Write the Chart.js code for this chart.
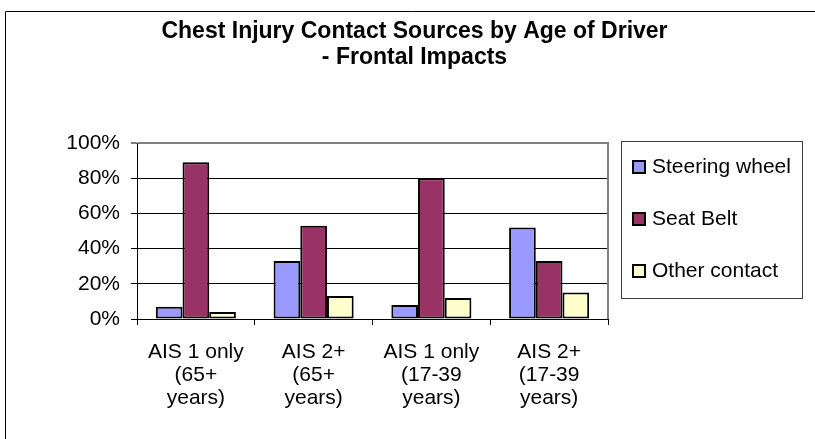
<!DOCTYPE html>
<html>
<head>
<meta charset="utf-8">
<title>Chest Injury Contact Sources by Age of Driver</title>
<script src="https://cdn.jsdelivr.net/npm/chart.js@4.4.0/dist/chart.umd.min.js"></script>
<style>
    html, body { margin: 0; padding: 0; background: #fff; }
    #chart { display: block; }
</style>
</head>
<body>
<canvas id="chart" width="815" height="439"></canvas>
<script>
// values (percent)
const categories = [
    ['AIS 1 only', '(65+', 'years)'],
    ['AIS 2+', '(65+', 'years)'],
    ['AIS 1 only', '(17-39', 'years)'],
    ['AIS 2+', '(17-39', 'years)']
];
const seriesNames = ['Steering wheel', 'Seat Belt', 'Other contact'];
const steeringWheel = [7, 33, 8, 52];
const seatBelt = [89, 53, 80, 33];
const otherContact = [4, 13, 12, 15];
const yTicks = [0, 20, 40, 60, 80, 100];

const FONT = "'Liberation Sans', Arial, sans-serif";
Chart.defaults.font.family = FONT;
Chart.defaults.color = '#000';

// legend drawn in its own layout box on the right, Excel style
function drawLegend(chart, box) {
    const ctx = chart.ctx;
    ctx.save();
    ctx.strokeStyle = '#404040';
    ctx.lineWidth = 1;
    ctx.strokeRect(box.left + 13.5, 141.5, 181, 157);
    ctx.font = '21px ' + FONT;
    ctx.textBaseline = 'middle';
    chart.data.datasets.forEach((ds, i) => {
        const cy = 167 + i * 52;
        ctx.fillStyle = ds.backgroundColor;
        ctx.fillRect(box.left + 25, cy - 6, 12, 12);
        ctx.strokeStyle = '#000';
        ctx.lineWidth = 2;
        ctx.strokeRect(box.left + 25, cy - 6, 12, 12);
        ctx.fillStyle = '#000';
        ctx.fillText(ds.label, box.left + 44, cy);
    });
    ctx.restore();
}

const sideLegend = {
    id: 'sideLegend',
    beforeInit(chart) {
        const box = {
            position: 'right',
            weight: 0,
            fullSize: false,
            options: {},
            width: 0,
            height: 0,
            isHorizontal() { return false; },
            update(maxWidth, maxHeight) {
                this.width = 207;
                this.height = maxHeight;
            },
            getPadding() { return { top: 0, left: 0, right: 0, bottom: 0 }; },
            draw() { drawLegend(chart, this); }
        };
        Chart.layouts.addBox(chart, box);
    }
};

const frame = {
    id: 'frame',
    beforeDraw(chart) {
        const ctx = chart.ctx;
        ctx.save();
        ctx.strokeStyle = '#000';
        ctx.lineWidth = 1;
        ctx.beginPath();
        ctx.moveTo(5.5, chart.height + 5);
        ctx.lineTo(5.5, 11.5);
        ctx.lineTo(chart.width + 5, 11.5);
        ctx.stroke();
        ctx.restore();
    },
    beforeDatasetsDraw(chart) {
        const a = chart.chartArea;
        const ctx = chart.ctx;
        ctx.save();
        ctx.strokeStyle = '#808080';
        ctx.lineWidth = 2;
        ctx.beginPath();
        ctx.moveTo(a.right, a.top - 1);
        ctx.lineTo(a.right, a.bottom);
        ctx.stroke();
        ctx.restore();
    }
};

new Chart(document.getElementById('chart'), {
    type: 'bar',
    data: {
        labels: categories,
        datasets: [
            { label: seriesNames[0], data: steeringWheel, backgroundColor: '#9999FF' },
            { label: seriesNames[1], data: seatBelt, backgroundColor: '#993366' },
            { label: seriesNames[2], data: otherContact, backgroundColor: '#FFFFCC' }
        ]
    },
    options: {
        responsive: false,
        animation: false,
        events: [],
        layout: { padding: { left: 14, right: 0, top: 0, bottom: 0 } },
        datasets: {
            bar: {
                borderColor: '#000',
                borderWidth: 2,
                borderSkipped: false,
                categoryPercentage: 0.68,
                barPercentage: 1
            }
        },
        plugins: {
            legend: { display: false },
            tooltip: { enabled: false },
            title: {
                display: true,
                text: ['Chest Injury Contact Sources by Age of Driver', '- Frontal Impacts'],
                color: '#000',
                font: { size: 23, weight: 'bold', lineHeight: '26px' },
                padding: { top: 19, bottom: 72 }
            }
        },
        scales: {
            x: {
                grid: {
                    display: true,
                    drawOnChartArea: false,
                    offset: true,
                    color: '#000',
                    tickLength: 6
                },
                border: { color: '#000', width: 1 },
                ticks: {
                    font: { size: 21, lineHeight: '23px' },
                    padding: 16,
                    maxRotation: 0,
                    autoSkip: false,
                    color: '#000'
                },
                afterFit(scale) { scale.height = 120; }
            },
            y: {
                min: 0,
                max: 100,
                afterBuildTicks(scale) {
                    scale.ticks = yTicks.map(v => ({ value: v }));
                },
                grid: {
                    color: c => (c.tick && c.tick.value === 100 ? '#808080' : '#000'),
                    lineWidth: c => (c.tick && c.tick.value === 100 ? 2 : 1),
                    tickColor: '#000',
                    tickWidth: 1,
                    tickLength: 6
                },
                border: { color: '#000', width: 1 },
                ticks: {
                    font: { size: 21 },
                    padding: 11,
                    color: '#000',
                    callback: v => v + '%'
                },
                afterFit(scale) { scale.width = 123; }
            }
        }
    },
    plugins: [sideLegend, frame]
});
</script>
</body>
</html>
